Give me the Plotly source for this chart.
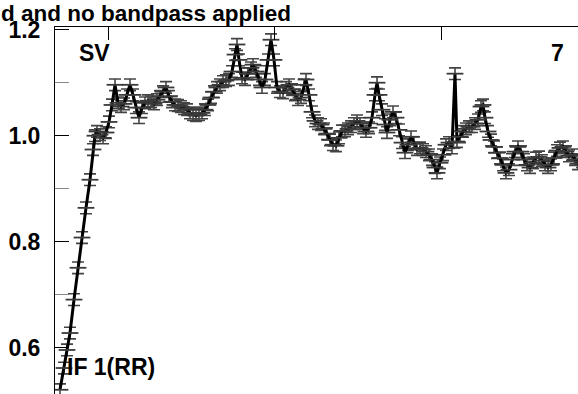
import plotly.graph_objects as go

# Bandpass amplitude vs channel
channels = [1.2, 3.6, 5.4, 7.2, 9.6, 12.0, 14.4, 16.8, 19.2, 21.0,
            22.2, 23.4, 25.2, 27.0, 28.8, 30.6, 32.4, 34.2, 36.0, 37.8,
            39.6, 41.4, 43.2, 45.0, 46.8, 48.6, 50.4, 52.2, 54.0, 55.8,
            57.6, 59.4, 61.2, 63.0, 64.8, 66.6, 68.4, 70.2, 72.0, 73.8,
            75.6, 77.4, 79.2, 81.0, 82.8, 84.6, 86.4, 88.2, 90.0, 91.8,
            93.6, 95.4, 97.2, 99.0, 100.8, 102.6, 104.4, 106.2, 107.4, 108.6,
            110.4, 112.2, 114.0, 115.8, 117.0, 118.8, 120.6, 122.4, 124.2, 126.0,
            127.8, 129.6, 131.4, 133.2, 135.0, 136.8, 138.6, 140.4, 142.2, 144.0,
            145.8, 147.6, 148.8, 150.6, 152.4, 154.2, 156.0, 157.8, 159.6, 161.4,
            163.2, 165.0, 166.8, 168.6, 170.4, 172.2, 174.0, 175.8, 177.6, 179.4,
            181.2, 183.0, 184.8, 186.6, 188.4, 190.2, 191.4, 192.6, 194.4, 196.2,
            197.4, 199.2, 201.0, 202.8, 204.6, 206.4, 208.2, 210.0, 211.8, 213.6,
            215.4, 217.2, 219.0, 220.8, 222.6, 224.4, 226.2, 227.4, 229.2, 231.0,
            232.8, 234.6, 236.4, 238.2, 239.4, 241.2, 243.0, 244.8, 246.6, 248.4,
            250.2, 252.0, 253.8, 255.0, 256.2, 258.0, 259.8, 261.6, 263.4, 265.2,
            267.0, 268.8, 270.6, 272.4, 274.2, 276.0, 277.8, 279.6, 281.4, 283.2,
            285.0, 286.8, 288.6, 290.4, 292.2, 294.0, 295.8, 297.6, 299.4, 301.2,
            303.0, 304.8, 306.6, 308.4, 310.2, 312.0, 314.4]

amplitude = [0.521, 0.562, 0.596, 0.628, 0.691, 0.751, 0.808, 0.864, 0.917, 0.974,
             1.000, 1.008, 1.002, 0.996, 1.006, 1.026, 1.058, 1.096, 1.062, 1.055,
             1.060, 1.077, 1.096, 1.077, 1.053, 1.034, 1.053, 1.062, 1.066, 1.064,
             1.060, 1.068, 1.074, 1.083, 1.091, 1.074, 1.064, 1.058, 1.057, 1.055,
             1.051, 1.049, 1.043, 1.040, 1.038, 1.040, 1.043, 1.049, 1.058, 1.072,
             1.083, 1.091, 1.096, 1.102, 1.104, 1.106, 1.121, 1.153, 1.172, 1.143,
             1.109, 1.106, 1.117, 1.128, 1.134, 1.121, 1.106, 1.091, 1.106, 1.143,
             1.181, 1.143, 1.091, 1.083, 1.081, 1.091, 1.096, 1.087, 1.077, 1.068,
             1.072, 1.096, 1.106, 1.077, 1.045, 1.028, 1.023, 1.021, 1.013, 1.004,
             0.992, 0.983, 0.981, 0.996, 1.009, 1.009, 1.013, 1.017, 1.023, 1.028,
             1.023, 1.015, 1.008, 1.015, 1.034, 1.077, 1.100, 1.077, 1.049, 1.021,
             1.006, 1.030, 1.045, 1.034, 1.011, 0.987, 0.968, 0.983, 0.998, 0.987,
             0.974, 0.977, 0.974, 0.970, 0.964, 0.955, 0.940, 0.930, 0.949, 0.964,
             0.983, 0.987, 0.977, 1.117, 0.989, 0.998, 1.008, 1.013, 1.017, 1.017,
             1.023, 1.030, 1.055, 1.058, 1.034, 1.008, 0.992, 0.979, 0.968, 0.958,
             0.945, 0.930, 0.936, 0.955, 0.970, 0.979, 0.970, 0.955, 0.945, 0.940,
             0.949, 0.958, 0.960, 0.953, 0.945, 0.940, 0.945, 0.958, 0.972, 0.977,
             0.979, 0.970, 0.962, 0.964, 0.955, 0.947, 0.951]

amp_error = 0.011  # typical per-channel uncertainty

x_range = [-1.8, 312.0]
y_range = [0.513, 1.205]
x_ticks = [30, 130, 230]
y_ticks = [0.6, 0.8, 1.0, 1.2]
y_ticktext = ['0.6', '0.8', '1.0', '1.2']

FONT = 'Liberation Sans, Arial, Helvetica, sans-serif'

fig = go.Figure()

fig.add_trace(go.Scatter(
    x=channels, y=amplitude,
    mode='lines+markers',
    line=dict(color='black', width=3),
    marker=dict(symbol='line-ew', size=12, line=dict(color='#3a3a3a', width=1.8)),
    error_y=dict(type='constant', value=amp_error, color='#444', thickness=1.6, width=6),
    showlegend=False, hoverinfo='skip'
))

fig.update_layout(
    width=578, height=394,
    margin=dict(l=55, r=0, t=27, b=0, autoexpand=False),
    paper_bgcolor='white', plot_bgcolor='white',
    xaxis=dict(range=x_range, side='top', showline=True, linecolor='black', linewidth=1,
               ticks='inside', ticklen=13, tickcolor='black', tickvals=x_ticks,
               showticklabels=False, showgrid=False, zeroline=False, automargin=False),
    xaxis2=dict(range=x_range, overlaying='x', side='bottom', showline=False,
                ticks='inside', ticklen=11, tickcolor='black', tickvals=x_ticks,
                showticklabels=False, showgrid=False, zeroline=False, automargin=False),
    yaxis=dict(range=y_range, showline=True, linecolor='black', linewidth=1,
               ticks='inside', ticklen=14, tickcolor='black',
               tickvals=y_ticks, ticktext=y_ticktext, ticklabelstandoff=9,
               tickfont=dict(family=FONT, size=23, color='black', weight='bold'),
               minor=dict(ticks='inside', ticklen=14, tickcolor='#888', dtick=0.1),
               showgrid=False, zeroline=False, automargin=False),
    yaxis2=dict(range=y_range, overlaying='y', side='right', showline=False,
                ticks='inside', ticklen=5, tickcolor='#444', dtick=0.1, tick0=0.5,
                showticklabels=False, showgrid=False, zeroline=False, automargin=False),
)

lbl = dict(family=FONT, size=23, color='black', weight='bold')
fig.add_annotation(text='d and no bandpass applied', xref='paper', yref='paper',
                   x=-0.1052, y=1.0736, xanchor='left', yanchor='top', showarrow=False,
                   borderpad=0, font=dict(family=FONT, size=22.5, color='black', weight='bold'))
fig.add_annotation(text='SV', xref='paper', yref='paper', x=0.042, y=0.93,
                   xanchor='left', yanchor='middle', showarrow=False, font=lbl)
fig.add_annotation(text='7', xref='paper', yref='paper', x=0.977, y=0.93,
                   xanchor='right', yanchor='middle', showarrow=False, font=lbl)
fig.add_annotation(text='IF 1(RR)', xref='paper', yref='paper', x=0.02, y=0.074,
                   xanchor='left', yanchor='middle', showarrow=False, font=lbl)

# page body has a default 8px margin; drop it so the figure sits at the corner
fig.write_html("out.html", config={'displayModeBar': False},
               post_script="document.body.style.margin='0';")
